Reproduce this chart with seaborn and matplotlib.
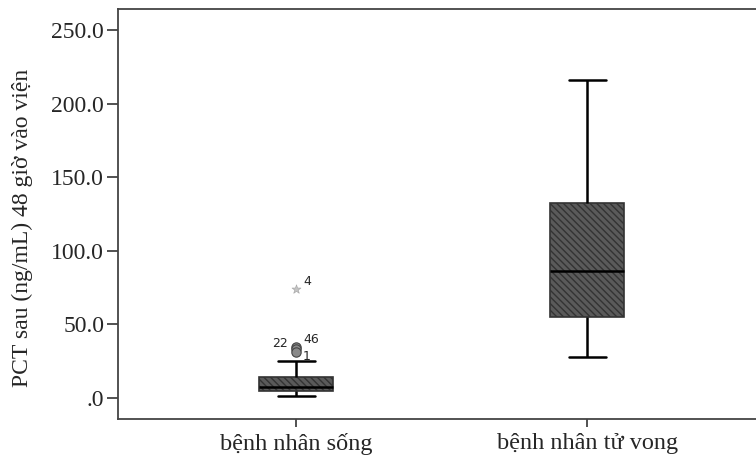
import matplotlib
matplotlib.use("Agg")
import matplotlib.pyplot as plt
import seaborn as sns
import pandas as pd

# ---- data ----
categories = ["bệnh nhân sống", "bệnh nhân tử vong"]
# five-number summaries: lower whisker, Q1, median, Q3, upper whisker
song_values = [1.0, 5.0, 7.7, 14.5, 25.0]
tuvong_values = [28.0, 55.3, 86.3, 132.5, 216.0]
# outliers of group "sống"
outlier_values = [34.8, 33.6, 31.2]
outlier_ids = ["46", "22", "1"]
extreme_values = [74.0]
extreme_ids = ["4"]
yticks = [0, 50, 100, 150, 200, 250]
ytick_labels = [".0", "50.0", "100.0", "150.0", "200.0", "250.0"]
ylabel = "PCT sau (ng/mL) 48 giờ vào viện"

df = pd.DataFrame({
    "group": [categories[0]] * len(song_values) + [categories[1]] * len(tuvong_values),
    "value": song_values + tuvong_values,
})

sns.set_style("white")
plt.rcParams["font.family"] = ["Liberation Serif", "DejaVu Serif"]
plt.rcParams["hatch.linewidth"] = 1.0
plt.rcParams["hatch.color"] = "black"

fig = plt.figure(figsize=(7.56, 4.59), dpi=100)
ax = fig.add_axes([118 / 756, 1 - 419 / 459, (760 - 118) / 756, (419 - 9) / 459])

sns.boxplot(data=df, x="group", y="value", order=categories, ax=ax,
            width=0.254, color="#555555", linecolor="black", linewidth=1.8,
            showfliers=False, whis=1.5, saturation=1)

for p in ax.patches:
    p.set_facecolor("#5a5a5a")
    p.set_edgecolor("#333333")
    p.set_hatch("\\" * 5)
    if hasattr(p, "set_hatchcolor"):
        p.set_hatchcolor("black")
    p.set_linewidth(1.2)

# outliers
ax.scatter([0] * len(outlier_values), outlier_values, s=45, facecolor="#8a8a8a",
           edgecolor="#444444", linewidth=0.8, zorder=5)
ax.scatter([0] * len(extreme_values), extreme_values, s=45, marker="*",
           facecolor="#c4c4c4", edgecolor="#aaaaaa", linewidth=0.5, zorder=5)

lab_kw = dict(fontsize=9, family="DejaVu Sans", textcoords="offset points", zorder=6)
offsets = {"46": (5, 3), "22": (-17, 1), "1": (5, -6)}
for v, t in zip(outlier_values, outlier_ids):
    ax.annotate(t, (0, v), xytext=offsets[t], **lab_kw)
for v, t in zip(extreme_values, extreme_ids):
    ax.annotate(t, (0, v), xytext=(5, 3), **lab_kw)

ax.set_xlim(-0.6117, 1.594)
ax.set_ylim(-14.3, 264.4)
ax.set_yticks(yticks)
ax.set_yticklabels(ytick_labels, fontsize=17)

ax.set_xlabel("")
ax.set_ylabel(ylabel, fontsize=17)
ax.yaxis.set_label_coords((33 - 118) / 642, (419 - 228) / 410)
ax.tick_params(axis="y", left=True, direction="out", length=8, width=1.2,
               color="#333333", pad=2)
ax.tick_params(axis="x", bottom=True, direction="out", length=6, width=1.2,
               color="#333333", labelsize=17.5, pad=4)

for side in ["left", "bottom", "top", "right"]:
    ax.spines[side].set_visible(True)
    ax.spines[side].set_color("#444444")
    ax.spines[side].set_linewidth(1.3)

fig.savefig("out.png", dpi=100)
